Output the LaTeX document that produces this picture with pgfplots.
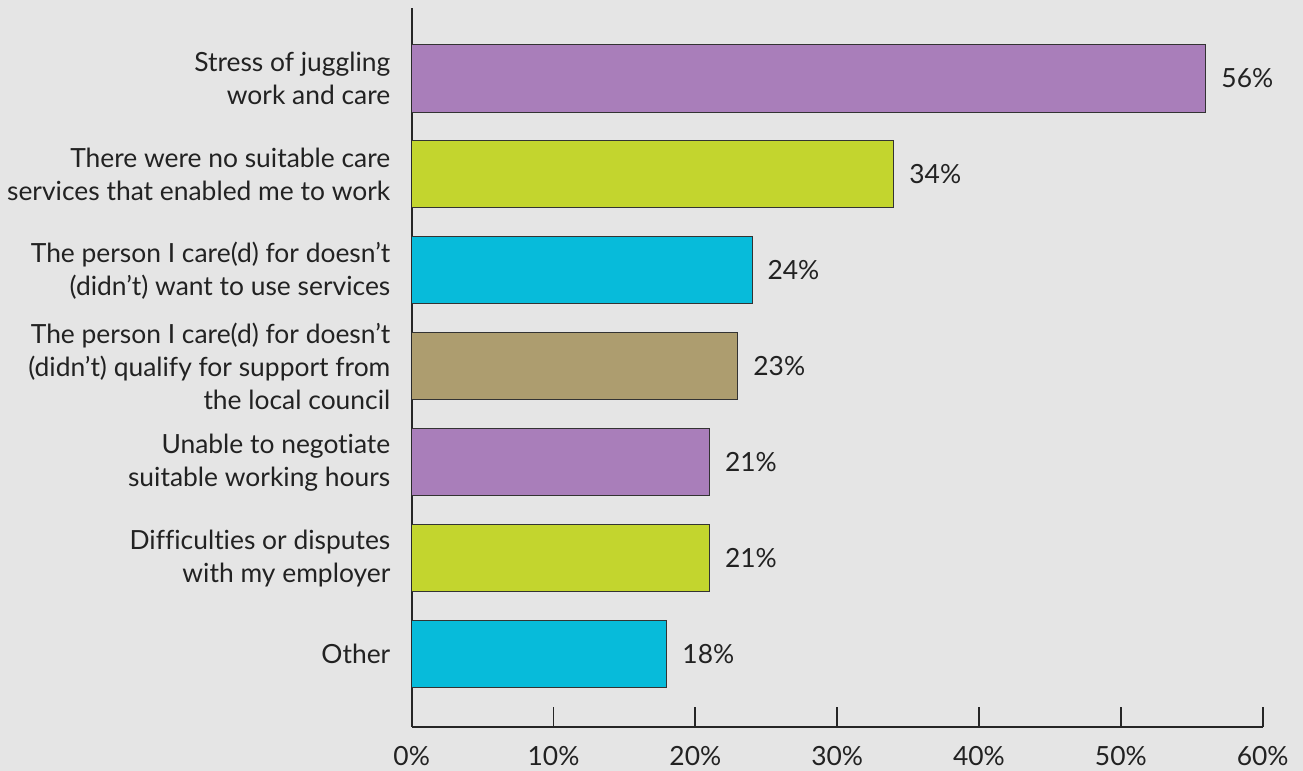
\documentclass[border=0pt]{standalone}
\usepackage{pgfplots}
\pgfplotsset{compat=1.18}
\usepackage{fontspec}
\setmainfont[Ligatures={NoCommon}]{Lato}
\definecolor{bg}{HTML}{E5E5E5}
\definecolor{cpurple}{HTML}{A97EBA}
\definecolor{cgreen}{HTML}{C3D52E}
\definecolor{ccyan}{HTML}{07BBDA}
\definecolor{ckhaki}{HTML}{AD9D6F}
\definecolor{txt}{HTML}{222222}
\newcommand{\lblfont}{\fontsize{13.2pt}{16.5pt}\selectfont}
\begin{document}
\lblfont
\begin{tikzpicture}
\fill[bg] (-205.85pt,-22pt) rectangle (445.65pt,363.5pt);
\useasboundingbox (-205.85pt,-22pt) rectangle (445.65pt,363.5pt);
\begin{axis}[at={(0,0)}, anchor=south west, scale only axis,
  width=425.5pt, height=359.5pt,
  /pgf/number format/assume math mode=true,
  xbar, bar width=0.7, bar shift=0pt,
  xmin=0, xmax=60, ymin=-0.76, ymax=6.735,
  axis lines=left,
  axis line style={-, line width=0.9pt, draw=black!85},
  xtick={0,10,...,60},
  xticklabels={0\%,10\%,20\%,30\%,40\%,50\%,60\%},
  tick align=inside, major tick length=10pt,
  xtick style={line width=0.9pt, draw=black!85},
  ytick={0,...,6},
  yticklabels={Other,
    {Difficulties or disputes\\with my employer},
    {Unable to negotiate\\suitable working hours},
    {The person I care(d) for doesn’t\\(didn’t) qualify for support from\\the local council},
    {The person I care(d) for doesn’t\\(didn’t) want to use services},
    {There were no suitable care\\services that enabled me to work},
    {Stress of juggling\\work and care}},
  ytick style={draw=none},
  yticklabel style={align=right, inner sep=0pt, xshift=-10.5pt, text=txt, font=\lblfont},
  xticklabel style={inner sep=0pt, yshift=-9.5pt, text=txt, font=\lblfont},
  point meta=x,
  nodes near coords={\pgfmathprintnumber{\pgfplotspointmeta}\%},
  every node near coord/.append style={anchor=west, inner sep=0pt, xshift=7.5pt, text=txt, font=\lblfont},
  every axis plot/.append style={draw=black!80, line width=0.5pt},
]
\addplot[fill=cpurple] coordinates {(56,6)};
\addplot[fill=cgreen] coordinates {(34,5)};
\addplot[fill=ccyan] coordinates {(24,4)};
\addplot[fill=ckhaki] coordinates {(23,3)};
\addplot[fill=cpurple] coordinates {(21,2)};
\addplot[fill=cgreen] coordinates {(21,1)};
\addplot[fill=ccyan] coordinates {(18,0)};
\end{axis}
\end{tikzpicture}
\end{document}
